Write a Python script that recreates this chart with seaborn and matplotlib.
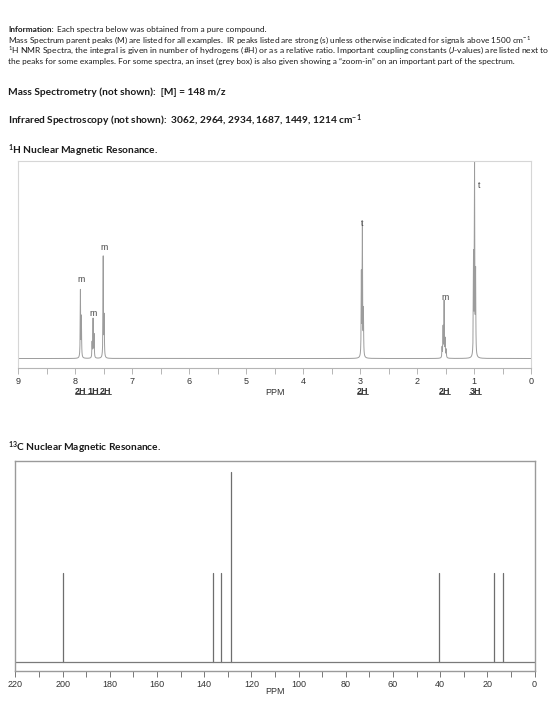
import numpy as np
import pandas as pd
import matplotlib
matplotlib.use("Agg")
import matplotlib.pyplot as plt
import matplotlib.transforms as mtrans
from matplotlib.lines import Line2D
from matplotlib.ticker import MultipleLocator
import seaborn as sns

# ---------------- data ----------------
# 1H NMR: individual lines (ppm, peak height in px above baseline)
h1_line_ppm = [7.905, 7.888, 7.700, 7.683, 7.665, 7.505, 7.488,
               2.976, 2.958, 2.940,
               1.560, 1.542, 1.524, 1.506, 1.488,
               1.008, 0.990, 0.972]
h1_line_height = [67, 40, 15, 38.5, 23, 100.5, 40,
                  82, 130, 45,
                  10, 30, 56, 18, 8,
                  99, 189, 82]
h1_mult_ppm = [7.90, 7.68, 7.49, 2.97, 1.51, 0.91]
h1_mult_y = [79.5, 45.5, 110.5, 135.5, 60.5, 173.5]
h1_mult_labels = ["m", "m", "m", "t", "m", "t"]
h1_int_ppm = [7.90, 7.68, 7.47, 2.96, 1.52, 0.98]
h1_int_labels = ["2H", "1H", "2H", "2H", "2H", "3H"]

# 13C NMR: peak positions (ppm) and heights
c13_ppm = [200.0, 136.4, 132.9, 128.5, 40.3, 17.2, 13.5]
c13_height = [89, 89, 89, 190, 89, 89, 89]

info_lines = [
    None,
    "Mass Spectrum parent peaks (M) are listed for all examples.  IR peaks listed are strong (s) unless otherwise indicated for signals above 1500 cm$^{-1}$",
    "$^{1}$H NMR Spectra, the integral is given in number of hydrogens (#H) or as a relative ratio. Important coupling constants ($\\mathit{J}$-values) are listed next to",
    "the peaks for some examples. For some spectra, an inset (grey box) is also given showing a \u201czoom-in\u201d on an important part of the spectrum.",
]
heading_lines = [
    "Mass Spectrometry (not shown):  [M] = 148 m/z",
    "Infrared Spectroscopy (not shown):  3062, 2964, 2934, 1687, 1449, 1214 cm$^{-1}$",
    "$^{1}$H Nuclear Magnetic Resonance.",
    "$^{13}$C Nuclear Magnetic Resonance.",
]

# ---------------- style ----------------
sns.set_style("white")
plt.rcParams["font.family"] = ["Liberation Sans", "DejaVu Sans"]
plt.rcParams["mathtext.fontset"] = "custom"
plt.rcParams["mathtext.rm"] = "Lato"
plt.rcParams["mathtext.it"] = "Lato:italic"
plt.rcParams["mathtext.bf"] = "Lato:bold"
plt.rcParams["mathtext.default"] = "regular"

W, H = 560, 702
fig = plt.figure(figsize=(W / 100, H / 100), dpi=100)
fig.patch.set_facecolor("white")
renderer = fig.canvas.get_renderer()


def fy(y):
    return 1 - y / H


def fit_text(x, yb, s, right, size, **kw):
    t = fig.text(x / W, fy(yb), s, fontsize=size, va="baseline", ha="left", **kw)
    bb = t.get_window_extent(renderer)
    t.set_fontsize(size * (right - x) / bb.width)
    return t


# ---------------- header text ----------------
TXT = "#1a1a1a"
tmp = fit_text(8, 42.5, info_lines[1], 532, 5.5, family="Lato", color=TXT)
psize = tmp.get_fontsize()
t_info = fig.text(8 / W, fy(32), "Information:", fontsize=psize, family="Lato",
                  weight="bold", va="baseline", color=TXT)
bb = t_info.get_window_extent(renderer)
fig.text((bb.x1 + 3) / W, fy(32), "Each spectra below was obtained from a pure compound.",
         fontsize=psize, family="Lato", va="baseline", color=TXT)
fit_text(8, 53, info_lines[2], 545, psize, family="Lato", color=TXT)
fit_text(8, 63.5, info_lines[3], 514, psize, family="Lato", color=TXT)

tmp = fit_text(8, 123.5, heading_lines[1], 361, 8, family="Lato", weight="bold", color=TXT)
hsize = tmp.get_fontsize()
fig.text(8 / W, fy(95), heading_lines[0], fontsize=hsize, family="Lato", weight="bold",
         va="baseline", color=TXT)
fig.text(8 / W, fy(153.5), heading_lines[2], fontsize=hsize, family="Lato", weight="bold",
         va="baseline", color=TXT)
fig.text(8 / W, fy(451), heading_lines[3], fontsize=hsize, family="Lato", weight="bold",
         va="baseline", color=TXT)

# ---------------- 1H NMR ----------------
ax1 = fig.add_axes([18 / W, fy(368), (531 - 18) / W, (368 - 161) / H])
xs = np.linspace(0, 9, 36001)
gam = 0.004
ys = np.zeros_like(xs)
for p, h in zip(h1_line_ppm, h1_line_height):
    ys += h * gam ** 2 / ((xs - p) ** 2 + gam ** 2)
df1 = pd.DataFrame({"ppm": xs, "I": ys})
sns.lineplot(data=df1, x="ppm", y="I", ax=ax1, color="#9c9c9c", lw=0.7,
             estimator=None, sort=False)
ax1.set_xlim(9, 0)
ax1.set_ylim(-9.5, 197.5)
ax1.set_yticks([])
ax1.set_xlabel("")
ax1.set_ylabel("")
ax1.xaxis.set_major_locator(MultipleLocator(1))
ax1.xaxis.set_minor_locator(MultipleLocator(0.5))
ax1.xaxis.set_major_formatter(matplotlib.ticker.FuncFormatter(lambda v, p: f"{v:.0f}"))
ax1.tick_params(axis="x", which="both", direction="out", length=4, width=0.6,
                color="#aaaaaa", labelsize=6.5, labelcolor="#333333", pad=2.5, bottom=True)
for s in ["top", "left", "right"]:
    ax1.spines[s].set_color("#d6d6d6")
    ax1.spines[s].set_linewidth(0.8)
ax1.spines["bottom"].set_color("#b5b5b5")
ax1.spines["bottom"].set_linewidth(0.8)

for p, y, lab in zip(h1_mult_ppm, h1_mult_y, h1_mult_labels):
    ax1.text(p, y, lab, ha="center", va="center", fontsize=6.3, color="#444444")

tr = mtrans.blended_transform_factory(ax1.transData, fig.transFigure)
int_texts = []
for p, lab in zip(h1_int_ppm, h1_int_labels):
    int_texts.append(ax1.text(p, fy(393.5), lab, ha="center", va="baseline", fontsize=6.5,
                              weight="bold", color="#333333", transform=tr))
fig.text(274.5 / W, fy(392.5), "PPM", ha="center", va="center", fontsize=6.5, color="#333333")

# ---------------- 13C NMR ----------------
ax2 = fig.add_axes([15.4 / W, fy(671), (534.6 - 15.4) / W, (671 - 460.5) / H])
rows = []
for i, (p, h) in enumerate(zip(c13_ppm, c13_height)):
    rows.append({"ppm": p, "I": 0.0, "peak": i})
    rows.append({"ppm": p, "I": h, "peak": i})
df2 = pd.DataFrame(rows)
sns.lineplot(data=df2, x="ppm", y="I", units="peak", estimator=None, sort=False,
             ax=ax2, color="#6e6e6e", lw=0.9)
ax2.axhline(0, color="#7a7a7a", lw=0.9)
ax2.set_xlim(220, 0)
ax2.set_ylim(-9.5, 201)
ax2.set_yticks([])
ax2.set_xlabel("")
ax2.set_ylabel("")
ax2.xaxis.set_major_locator(MultipleLocator(20))
ax2.xaxis.set_minor_locator(MultipleLocator(10))
ax2.xaxis.set_major_formatter(matplotlib.ticker.FuncFormatter(lambda v, p: f"{v:.0f}"))
ax2.tick_params(axis="x", which="both", direction="out", length=4, width=0.7,
                color="#777777", labelsize=6.5, labelcolor="#333333", pad=2.5, bottom=True)
for s in ["top", "left", "right", "bottom"]:
    ax2.spines[s].set_color("#9a9a9a")
    ax2.spines[s].set_linewidth(1.0)
fig.text(275 / W, fy(692), "PPM", ha="center", va="center", fontsize=6.5, color="#333333")

# underline integrals
fig.canvas.draw()
for t in int_texts:
    bb = t.get_window_extent(renderer)
    yline = (bb.y0 + 1.2) / H
    fig.add_artist(Line2D([bb.x0 / W, bb.x1 / W], [yline, yline], transform=fig.transFigure,
                          color="#333333", lw=0.6))

fig.savefig("out.png", dpi=100, facecolor="white")
